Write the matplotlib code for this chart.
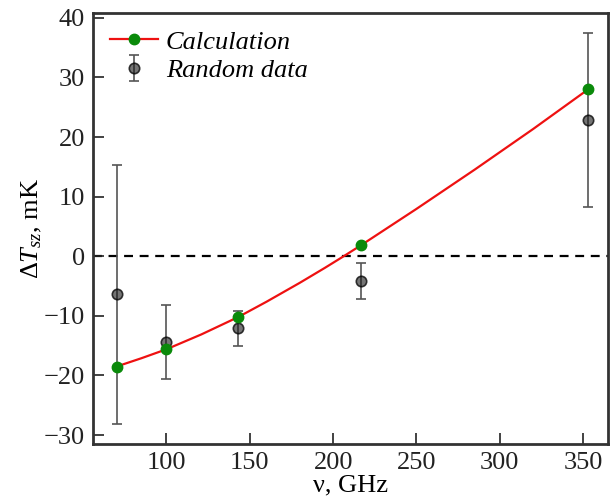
import matplotlib
matplotlib.use("Agg")
import matplotlib.pyplot as plt

# Data
freq_calc = [70, 100, 143, 217, 353]
dT_calc = [-18.5, -15.6, -10.2, 1.9, 28.0]

curve_freq = [70, 85, 100, 121, 143, 160, 180, 195, 206, 217, 250, 285, 320, 353]
curve_dT = [-18.5, -17.1, -15.6, -13.1, -10.2, -7.63, -4.45, -1.95, -0.05, 1.9, 7.95, 14.55, 21.35, 28.0]

freq_data = [70, 100, 143, 217, 353]
dT_data = [-6.4, -14.4, -12.1, -4.2, 22.8]
dT_err = [21.7, 6.2, 2.9, 3.0, 14.6]

xticks = [100, 150, 200, 250, 300, 350]
yticks = [-30, -20, -10, 0, 10, 20, 30, 40]

plt.rcParams['font.family'] = ['Liberation Serif', 'DejaVu Serif']
plt.rcParams['mathtext.fontset'] = 'custom'
plt.rcParams['mathtext.rm'] = 'Liberation Serif'
plt.rcParams['mathtext.it'] = 'Liberation Serif:italic'

FS = 19

fig = plt.figure(figsize=(6.13, 5.04), dpi=100)
ax = fig.add_axes([0.152, 0.119, 0.840, 0.855])

ax.axhline(0, color='black', lw=1.6, ls=(0, (4, 3)), zorder=1)

ax.plot(curve_freq, curve_dT, color='#ee1111', lw=1.6, zorder=2,
        solid_joinstyle='round')
ax.plot(freq_calc, dT_calc, ls='none', marker='o', ms=7.5, color='#0a8a0a', zorder=4)
calc_handle, = ax.plot([], [], color='#ee1111', lw=1.6, marker='o', ms=7.5,
                       mfc='#0a8a0a', mec='#0a8a0a', label='Calculation')

eb = ax.errorbar(freq_data, dT_data, yerr=dT_err, fmt='o', ms=7.5,
                 mfc=(0.1, 0.1, 0.1, 0.6), mec=(0, 0, 0, 0.75), mew=1.2,
                 ecolor='#555555', elinewidth=1.2, capsize=3.8, capthick=1.2,
                 zorder=3, label='Random data')

ax.set_xlim(56, 365)
ax.set_ylim(-31.5, 40.8)
ax.set_xticks(xticks)
ax.set_yticks(yticks)
ax.tick_params(direction='in', length=8, width=1.2, labelsize=FS, colors='#222222',
               top=False, right=False, pad=6)
for s in ax.spines.values():
    s.set_linewidth(2)
    s.set_color('#333333')

ax.set_xlabel('ν, GHz', fontsize=FS, labelpad=0)
ax.set_ylabel(r'$\Delta T_{sz}$, mK', fontsize=FS, labelpad=0)

leg = ax.legend(handles=[calc_handle, eb], loc='upper left', frameon=False,
                prop={'family': 'Liberation Serif', 'style': 'italic', 'size': FS},
                handlelength=1.8, handletextpad=0.3, borderaxespad=0.25,
                labelspacing=0.2)

fig.savefig('out.png', dpi=100)
